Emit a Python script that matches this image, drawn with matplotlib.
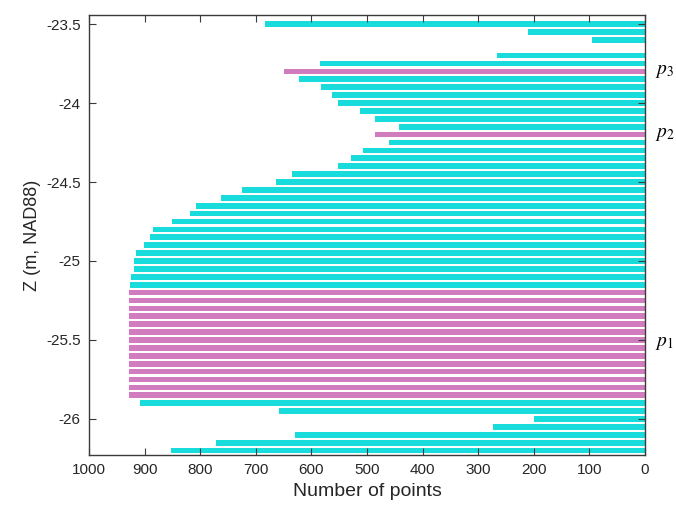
import numpy as np
import matplotlib
matplotlib.use('Agg')
import matplotlib.pyplot as plt
import matplotlib.transforms as mtransforms

# 每 0.05 m 一層的點數 (由上到下, -23.5 ~ -26.2)
z_top = -23.5
z_step = 0.05
counts = [684, 211, 96, 0, 267, 584, 649, 623, 582, 563,
          552, 512, 485, 443, 485, 461, 507, 528, 552, 635,
          663, 725, 763, 808, 818, 851, 885, 890, 901, 915,
          920, 920, 925, 927, 929, 929, 929, 929, 929, 929,
          929, 929, 929, 929, 929, 929, 929, 929, 908, 658,
          200, 274, 630, 771, 853]
# 標記為 p 的層 (index)
p1_layers = list(range(34, 48))
p2_layers = [14]
p3_layers = [6]
p_labels = ['$p_3$', '$p_2$', '$p_1$']
p_label_z = [-23.8, -24.2, -25.525]

z = np.array([z_top - i * z_step for i in range(len(counts))])
marked = set(p1_layers + p2_layers + p3_layers)
colors = ['#d27cc0' if i in marked else '#18dcdc' for i in range(len(counts))]

plt.rcParams['font.family'] = ['Liberation Sans', 'DejaVu Sans']
plt.rcParams['mathtext.fontset'] = 'stix'

fig = plt.figure(figsize=(6.76, 5.11), dpi=100)
ax = fig.add_axes([0.1317, 0.1096, 0.8225, 0.861])

ax.barh(z, counts, height=0.036, color=colors, edgecolor='none')

ax.set_xlim(1000, 0)
ax.set_ylim(-26.228, -23.443)
ax.set_xticks(np.arange(0, 1001, 100))
ax.set_yticks([-26, -25.5, -25, -24.5, -24, -23.5])
ax.set_yticklabels(['-26', '-25.5', '-25', '-24.5', '-24', '-23.5'])

for s in ax.spines.values():
    s.set_color('#3a3a3a')
    s.set_linewidth(1.0)
ax.tick_params(direction='in', length=5, width=0.8, color='#3a3a3a',
               top=True, right=True, labelsize=11, labelcolor='#262626', pad=6)

ax.set_xlabel('Number of points', fontsize=14, color='#262626', labelpad=4)
ax.set_ylabel('Z (m, NAD88)', fontsize=13, color='#262626', labelpad=4)

# 右側 p 標籤
trans = mtransforms.blended_transform_factory(ax.transAxes, ax.transData)
for lab, zz in zip(p_labels, p_label_z):
    ax.text(1.018, zz, lab, transform=trans, fontsize=14, ha='left', va='center',
            clip_on=False, color='black')

fig.savefig('out.png', dpi=100)
